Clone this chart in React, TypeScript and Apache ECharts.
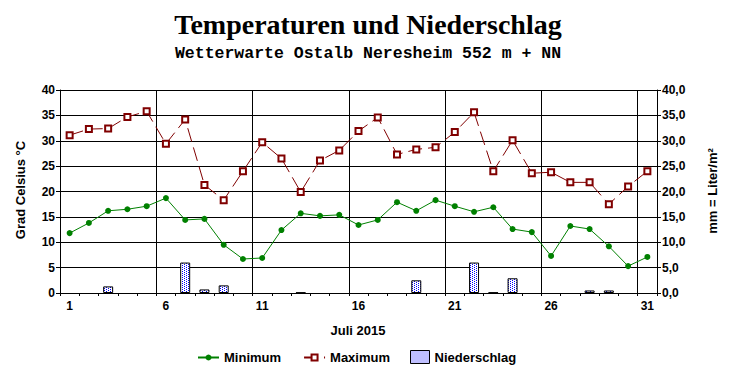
import React, { useEffect, useRef } from 'react';
import * as echarts from 'echarts';

const days = ['1','2','3','4','5','6','7','8','9','10','11','12','13','14','15','16','17','18','19','20','21','22','23','24','25','26','27','28','29','30','31'];
const minimum = [11.8,13.8,16.2,16.5,17.1,18.7,14.4,14.6,9.5,6.7,6.9,12.4,15.7,15.2,15.4,13.4,14.4,17.9,16.2,18.3,17.1,16.0,16.9,12.6,12.0,7.3,13.2,12.6,9.2,5.3,7.1];
const maximum = [31.1,32.3,32.4,34.7,35.8,29.4,34.2,21.3,18.3,24.0,29.7,26.5,19.9,26.1,28.1,31.9,34.6,27.3,28.3,28.7,31.7,35.6,24.0,30.1,23.6,23.8,21.8,21.8,17.5,21.0,24.0];
const niederschlag = [0,0,1.3,0,0,0,6.0,0.7,1.5,0,0,0,0.1,0,0,0,0,0,2.5,0,0,6.0,0.1,2.9,0,0,0,0.5,0.5,0,0];

const title = 'Temperaturen und Niederschlag';
const subtitle = 'Wetterwarte Ostalb Neresheim 552 m + NN';
const xName = 'Juli 2015';
const yNameLeft = 'Grad Celsius °C';
const yNameRight = 'mm = Liter/m²';

const SANS = "'Liberation Sans', Arial, sans-serif";

export default function App() {
  const ref = useRef<HTMLDivElement>(null);
  useEffect(() => {
    if (!ref.current) return;
    const cv = document.createElement('canvas');
    cv.width = 4; cv.height = 2;
    const ctx = cv.getContext('2d')!;
    ctx.fillStyle = '#ffffff';
    ctx.fillRect(0, 0, 4, 2);
    ctx.fillStyle = '#0000ff';
    ctx.fillRect(0, 0, 1, 1);
    ctx.fillRect(2, 1, 1, 1);
    const pattern = { image: cv, repeat: 'repeat' };

    const chart = echarts.init(ref.current, undefined, { renderer: 'svg' });
    const labelStyle = { color: '#000', fontFamily: SANS, fontWeight: 'bold' as const, fontSize: 12 };
    const legendText = { color: '#000', fontFamily: SANS, fontWeight: 'bold' as const, fontSize: 13 };
    chart.setOption({
      animation: false,
      backgroundColor: '#fff',
      graphic: [
        { type: 'text', x: 368, y: 24, style: { text: title, fill: '#000', font: "bold 28px 'Liberation Serif', 'Times New Roman', serif", align: 'center', verticalAlign: 'middle' } },
        { type: 'text', x: 368, y: 53, style: { text: subtitle, fill: '#000', font: "bold 16.5px 'Liberation Mono', 'Courier New', monospace", align: 'center', verticalAlign: 'middle' } },
        { type: 'text', x: 20, y: 190, rotation: Math.PI / 2, style: { text: yNameLeft, fill: '#000', font: `bold 13px ${SANS}`, align: 'center', verticalAlign: 'middle' } },
        { type: 'text', x: 712, y: 191, rotation: Math.PI / 2, style: { text: yNameRight, fill: '#000', font: `bold 13px ${SANS}`, align: 'center', verticalAlign: 'middle' } },
        { type: 'text', x: 358, y: 330, style: { text: xName, fill: '#000', font: `bold 13px ${SANS}`, align: 'center', verticalAlign: 'middle' } },
      ],
      grid: { left: 60, right: 75, top: 90, bottom: 87 },
      legend: [
        {
          left: 197, top: 351, padding: 0,
          itemWidth: 21, itemHeight: 7.5, itemGap: 22,
          textStyle: legendText,
          data: ['Minimum', 'Maximum'],
        },
        {
          left: 410, top: 350, padding: 0,
          itemWidth: 19, itemHeight: 13, itemGap: 20,
          textStyle: legendText,
          itemStyle: { color: pattern, borderColor: '#000', borderWidth: 1 },
          data: [{ name: 'Niederschlag', icon: 'rect' }],
        },
      ],
      xAxis: {
        type: 'category',
        data: days,
        boundaryGap: true,
        axisLine: { lineStyle: { color: '#000', width: 1 } },
        axisTick: { show: true, length: 3, interval: 0, lineStyle: { color: '#000' } },
        axisLabel: { ...labelStyle, margin: 7, interval: (i: number) => i % 5 === 0 },
        splitLine: { show: true, interval: (i: number) => i % 5 === 0, lineStyle: { color: '#000', width: 1 } },
      },
      yAxis: [
        {
          type: 'value', min: 0, max: 40, interval: 5,
          axisLine: { show: true, lineStyle: { color: '#000' } },
          axisTick: { show: true, length: 4, lineStyle: { color: '#000' } },
          axisLabel: { ...labelStyle, margin: 5 },
          splitLine: { show: true, lineStyle: { color: '#000', width: 1 } },
        },
        {
          type: 'value', min: 0, max: 40, interval: 5, position: 'right',
          axisLine: { show: true, lineStyle: { color: '#000' } },
          axisTick: { show: true, length: 4, lineStyle: { color: '#000' } },
          axisLabel: { ...labelStyle, margin: 5, formatter: (v: number) => v.toFixed(1).replace('.', ',') },
          splitLine: { show: false },
        },
      ],
      series: [
        {
          name: 'Niederschlag', type: 'bar', yAxisIndex: 1, barWidth: 10,
          data: niederschlag.map((v) => (v > 0 ? v : null)),
          itemStyle: { color: pattern, borderColor: '#000', borderWidth: 1 },
          z: 1,
        },
        {
          name: 'Minimum', type: 'line', data: minimum,
          symbol: 'circle', symbolSize: 6,
          lineStyle: { color: '#008000', width: 1 },
          itemStyle: { color: '#008000' },
          z: 3,
        },
        {
          name: 'Maximum', type: 'line', data: maximum,
          symbol: 'emptyRect', symbolSize: 6,
          lineStyle: { color: '#800000', width: 1, type: [14, 6] },
          itemStyle: { color: '#800000', borderWidth: 1 },
          z: 3,
        },
      ],
    });
    return () => chart.dispose();
  }, []);
  return <div ref={ref} style={{ width: 732, height: 380, position: 'absolute', left: 0, top: 0 }} />;
}
